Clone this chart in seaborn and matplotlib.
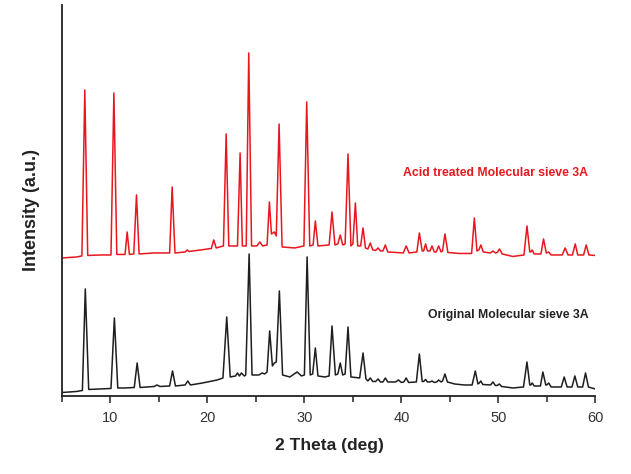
import numpy as np
import pandas as pd
import matplotlib
matplotlib.use("Agg")
import matplotlib.pyplot as plt
from matplotlib.ticker import MultipleLocator
import seaborn as sns

# ---- data (2-theta in degrees, intensity in a.u.) ----
orig_2theta = [5.0, 6.5, 7.1, 7.4, 7.75, 9.0, 10.05, 10.4, 10.75, 11.5, 12.45, 12.75, 13.05,
               14.5, 14.8, 15.1, 16.1, 16.4, 16.7, 17.7, 17.97, 18.25, 19.5, 20.5, 21.0, 21.6,
               21.99, 22.35, 22.9, 23.1, 23.3, 23.5, 23.8, 23.95, 24.3, 24.6, 25.3, 25.64, 25.9,
               26.15, 26.42, 26.7, 26.9, 27.1, 27.42, 27.75, 28.5, 29.25, 29.7, 30.0, 30.28, 30.6,
               30.85, 31.13, 31.4, 32.1, 32.55, 32.85, 33.2, 33.45, 33.7, 33.95, 34.2, 34.5, 34.8,
               35.7, 36.05, 36.35, 36.55, 36.8, 37.05, 37.35, 37.6, 37.85, 38.1, 38.35, 38.6, 39.4,
               39.7, 40.0, 40.25, 40.5, 40.75, 41.55, 41.86, 42.15, 42.3, 42.5, 42.7, 42.95, 43.16,
               43.4, 43.65, 43.85, 44.1, 44.25, 44.5, 44.75, 45.5, 46.5, 47.3, 47.63, 47.9, 48.05,
               48.2, 48.4, 49.2, 49.45, 49.7, 49.9, 50.1, 50.35, 51.5, 52.6, 52.96, 53.25, 53.35,
               53.5, 53.7, 54.35, 54.6, 54.9, 55.0, 55.2, 55.45, 56.5, 56.8, 57.1, 57.6, 57.9, 58.2,
               58.7, 59.0, 59.3, 60.0]
orig_intensity = [3.5, 4.5, 5.5, 107, 6.5, 7, 7.5, 78, 8, 8, 8.5, 33, 8.5,
                  9.5, 11, 9.5, 10, 25, 10, 11, 15, 11, 13, 15, 16, 18,
                  79, 19, 20, 23, 20, 23, 20, 21, 142, 21, 21, 23, 22,
                  24, 65, 30, 33, 34, 105, 21, 19, 24, 20, 21, 139, 21,
                  22, 48, 20, 19, 20, 70, 21, 22, 33, 21, 22, 69, 19,
                  18, 43, 17, 15, 18, 14.5, 14.5, 17, 14, 14, 18, 14, 14,
                  16, 13.5, 14, 18, 13.5, 14, 42, 14.5, 14.5, 16.5, 14, 14, 15,
                  13.5, 14, 16, 14, 15, 22, 14, 12, 11, 11, 25, 12, 13,
                  15, 11.5, 11, 14, 10.5, 10.5, 12, 9.5, 8, 9, 34, 11, 11,
                  13, 10, 10, 24, 11, 11, 13, 9, 9, 19, 9, 9, 20, 9,
                  9, 23, 9, 7]

acid_2theta = [5.0, 6.5, 7.05, 7.35, 7.65, 9.0, 10.05, 10.35, 10.65, 11.5, 11.72, 11.95, 12.4,
               12.68, 12.95, 14.5, 16.1, 16.36, 16.65, 17.7, 17.9, 18.1, 19.3, 20.4, 20.65, 20.9,
               21.65, 21.93, 22.2, 23.1, 23.37, 23.6, 24.0, 24.26, 24.55, 25.1, 25.4, 25.7, 26.15,
               26.39, 26.6, 26.9, 27.1, 27.39, 27.7, 29.0, 29.95, 30.24, 30.55, 30.9, 31.13, 31.4,
               32.55, 32.85, 33.15, 33.45, 33.7, 33.95, 34.2, 34.5, 34.8, 35.0, 35.26, 35.5, 35.8,
               36.05, 36.3, 36.55, 36.8, 37.05, 37.35, 37.6, 37.85, 38.1, 38.35, 38.6, 40.2, 40.5,
               40.8, 41.6, 41.86, 42.15, 42.3, 42.5, 42.7, 42.95, 43.16, 43.4, 43.6, 43.85, 44.1,
               44.25, 44.5, 44.8, 46.0, 47.25, 47.53, 47.8, 48.0, 48.2, 48.45, 49.2, 49.45, 49.7,
               49.9, 50.13, 50.4, 51.5, 52.65, 52.96, 53.25, 53.35, 53.5, 53.7, 54.4, 54.67, 54.95,
               55.0, 55.2, 55.45, 56.6, 56.9, 57.2, 57.65, 57.94, 58.2, 58.8, 59.07, 59.35, 60.0]
acid_intensity = [0, 1, 2, 168, 2.5, 3, 3, 165, 3.5, 3.5, 26, 3.5, 4,
                  63, 4, 5, 5, 71, 5, 6, 8, 6.5, 8, 9.5, 18, 10,
                  12, 124, 12, 12, 105, 12, 12, 205, 12, 12, 16, 12, 13,
                  56, 24, 26, 22, 134, 11, 10, 12, 156, 12, 13, 37, 12,
                  13, 46, 13, 14, 23, 13, 14, 104, 12, 14, 55, 12, 12,
                  30, 10, 9, 15, 8, 7.5, 10, 7, 7, 13, 6, 5, 12,
                  5, 6, 25, 7, 7, 14, 7, 7, 12, 6, 6, 12, 6,
                  7, 24, 5.5, 4.5, 4.5, 40, 7, 8, 13, 6, 5, 7, 5,
                  5.5, 9, 4, 1.5, 3, 32, 6, 6, 8, 4, 4, 19, 5,
                  5, 6, 3, 3, 10, 3, 3, 14, 3, 3, 13, 3, 2.5]
acid_offset = 138

series_names = ["Original Molecular sieve 3A", "Acid treated Molecular sieve 3A"]
series_colors = ["#1e1e1e", "#e8171f"]
x_ticks = [10, 20, 30, 40, 50, 60]

series_x = [orig_2theta, acid_2theta]
series_y = [np.asarray(orig_intensity, dtype=float),
            np.asarray(acid_intensity, dtype=float) + acid_offset]

sns.set_theme(style="ticks")
plt.rcParams["font.family"] = ["Liberation Sans", "DejaVu Sans"]

fig = plt.figure(figsize=(6.31, 4.74), dpi=100)
ax = fig.add_axes([0.0983, 0.1646, 0.845, 0.825])

for xs, ys, col in zip(series_x, series_y, series_colors):
    sns.lineplot(x=xs, y=ys, sort=False, estimator=None, color=col,
                 linewidth=1.1, ax=ax)

ax.set_xlim(5, 60)
ax.set_ylim(0, 391)
ax.set_xticks(x_ticks)
ax.xaxis.set_minor_locator(MultipleLocator(5))
ax.set_yticks([])
sns.despine(ax=ax, top=True, right=True)
for s in ("left", "bottom"):
    ax.spines[s].set_linewidth(1.3)
    ax.spines[s].set_color("#222222")
ax.tick_params(axis="x", which="major", direction="out", length=5, width=1.1,
               color="#222222", labelsize=10.5, labelcolor="#333333", pad=6)
ax.tick_params(axis="x", which="minor", direction="out", length=4, width=1.1, color="#222222")

ax.set_xlabel("2 Theta (deg)", fontsize=12.5, fontweight="bold", color="#222222")
ax.xaxis.set_label_coords(0.501, -0.108)
ax.xaxis.label.set_va("top")
ax.set_ylabel("Intensity (a.u.)", fontsize=13, fontweight="bold", color="#222222")
ax.yaxis.set_label_coords(-0.058, 0.476)
ax.yaxis.label.set_va("center")

ax.text(59.3, 223, series_names[1], color=series_colors[1], fontsize=8.8,
        fontweight="bold", ha="right", va="center")
ax.text(59.3, 81, series_names[0], color="#222222", fontsize=8.8,
        fontweight="bold", ha="right", va="center")

fig.savefig("out.png", dpi=100)
